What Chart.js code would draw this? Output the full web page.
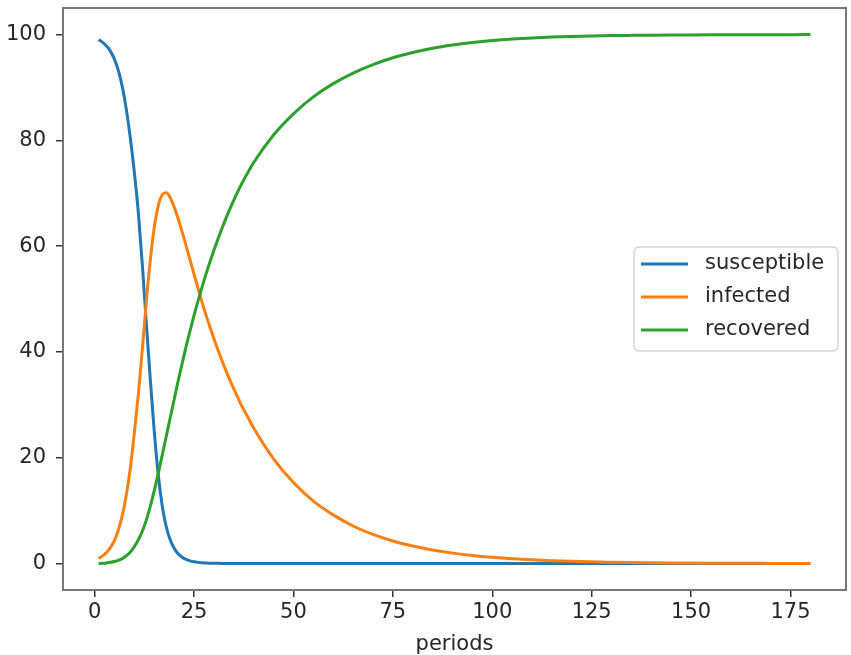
<!DOCTYPE html>
<html lang="en">
<head>
    <meta charset="UTF-8">
    <title>SIR model</title>
    <script src="https://cdn.jsdelivr.net/npm/chart.js"></script>
    <style>
        html, body {
            margin: 0;
            padding: 0;
            background: #fff;
        }
        .chart-box {
            width: 851px;
            height: 655px;
        }
    </style>
</head>
<body>
    <div class="chart-box"><canvas id="sirChart"></canvas></div>

    <script>
        // periods on the x axis: every step up to 40, then every 5
        const periods = [
            1, 2, 3, 4, 5, 6, 7, 8, 9, 10, 11, 12, 13, 14, 15, 16, 17, 18, 19, 20,
            21, 22, 23, 24, 25, 26, 27, 28, 29, 30, 31, 32, 33, 34, 35, 36, 37, 38, 39, 40,
            45, 50, 55, 60, 65, 70, 75, 80, 85, 90, 95, 100, 105, 110, 115, 120, 125, 130,
            135, 140, 145, 150, 155, 160, 165, 170, 175, 180
        ];
        const susceptible = [
            99, 98.5, 97.8, 96.8, 95.3, 93.1, 90.0, 85.7, 80.3, 73.9, 66.3, 56.5, 45.5, 34.8, 25.0, 16.8, 10.9, 7.0, 4.5, 2.9,
            1.85, 1.2, 0.78, 0.5, 0.33, 0.22, 0.15, 0.1, 0.07, 0.05, 0.04, 0.032, 0.026, 0.022, 0.019, 0.017, 0.015, 0.014, 0.013, 0.012,
            0.01, 0.008, 0.007, 0.006, 0.006, 0.005, 0.005, 0.005, 0.004, 0.004, 0.004, 0.004, 0.004, 0.003, 0.003, 0.003, 0.003, 0.003,
            0.003, 0.003, 0.003, 0.003, 0.003, 0.003, 0.003, 0.003, 0.003, 0.003
        ];
        const infected = [
            1.0, 1.45, 2.1, 3.05, 4.4, 6.4, 9.2, 13.1, 18.1, 24.8, 32.0, 40.5, 49.5, 57.3, 63.5, 67.6, 69.7, 70.1, 69.2, 67.4,
            65.2, 62.7, 60.1, 57.4, 54.7, 52.0, 49.4, 47.0, 44.7, 42.5, 40.4, 38.4, 36.5, 34.7, 33.0, 31.4, 29.8, 28.4, 27.0, 25.6,
            19.8, 15.3, 11.8, 9.2, 7.1, 5.5, 4.25, 3.3, 2.55, 1.97, 1.52, 1.17, 0.9, 0.7, 0.54, 0.42, 0.32, 0.25,
            0.19, 0.15, 0.115, 0.09, 0.07, 0.054, 0.042, 0.032, 0.025, 0.02
        ];
        const recovered = [
            0, 0.05, 0.12, 0.23, 0.38, 0.6, 0.95, 1.5, 2.2, 3.2, 4.5, 6.1, 8.2, 10.8, 13.8, 17.0, 20.5, 24.0, 27.5, 31.0,
            34.5, 37.8, 41.0, 44.0, 46.9, 49.6, 52.2, 54.7, 57.0, 59.2, 61.3, 63.3, 65.2, 67.0, 68.7, 70.3, 71.8, 73.2, 74.5, 75.8,
            81.0, 85.0, 88.2, 90.7, 92.7, 94.3, 95.6, 96.6, 97.4, 98.0, 98.47, 98.84, 99.12, 99.34, 99.5, 99.62, 99.71, 99.78,
            99.83, 99.87, 99.9, 99.92, 99.935, 99.945, 99.955, 99.96, 99.965, 99.97
        ];

        const xTicks = [0, 25, 50, 75, 100, 125, 150, 175];
        const yTicks = [0, 20, 40, 60, 80, 100];
        const xLabel = 'periods';

        const FONT = '"DejaVu Sans", sans-serif';
        const TEXT = '#262626';

        const toPoints = (ys) => periods.map((p, i) => ({ x: p, y: ys[i] }));

        // matplotlib-like frame and legend box inside the axes
        const axesDecor = {
            id: 'axesDecor',
            afterDatasetsDraw(chart) {
                const { ctx, chartArea } = chart;
                ctx.save();
                ctx.strokeStyle = '#777';
                ctx.lineWidth = 2;
                ctx.strokeRect(chartArea.left, chartArea.top,
                    chartArea.right - chartArea.left, chartArea.bottom - chartArea.top);

                const boxW = 204, boxH = 104;
                const x0 = chartArea.right - 8 - boxW;
                const y0 = (chartArea.top + chartArea.bottom) / 2 - boxH / 2;
                ctx.beginPath();
                ctx.roundRect(x0, y0, boxW, boxH, 5);
                ctx.fillStyle = 'rgba(255,255,255,0.85)';
                ctx.fill();
                ctx.strokeStyle = '#d3d3d3';
                ctx.lineWidth = 1.5;
                ctx.stroke();

                ctx.font = '21px ' + FONT;
                ctx.textBaseline = 'middle';
                ctx.textAlign = 'left';
                chart.data.datasets.forEach((ds, i) => {
                    const y = y0 + 17 + i * 33;
                    ctx.strokeStyle = ds.borderColor;
                    ctx.lineWidth = 3;
                    ctx.beginPath();
                    ctx.moveTo(x0 + 7, y);
                    ctx.lineTo(x0 + 54, y);
                    ctx.stroke();
                    ctx.fillStyle = TEXT;
                    ctx.fillText(ds.label, x0 + 71, y);
                });
                ctx.restore();
            }
        };

        const ctx = document.getElementById('sirChart').getContext('2d');
        new Chart(ctx, {
            type: 'line',
            data: {
                datasets: [
                    { label: 'susceptible', data: toPoints(susceptible), borderColor: '#1f77b4', order: 2 },
                    { label: 'infected', data: toPoints(infected), borderColor: '#ff7f0e', order: 1 },
                    { label: 'recovered', data: toPoints(recovered), borderColor: '#2ca02c', order: 0 }
                ]
            },
            options: {
                responsive: true,
                maintainAspectRatio: false,
                animation: false,
                layout: { padding: { top: 8, right: 5, left: 0, bottom: 0 } },
                elements: {
                    line: { borderWidth: 3, fill: false, cubicInterpolationMode: 'monotone' },
                    point: { radius: 0, hoverRadius: 0 }
                },
                plugins: {
                    legend: { display: false },
                    tooltip: { enabled: false }
                },
                scales: {
                    x: {
                        type: 'linear',
                        min: -7.95,
                        max: 188.95,
                        afterFit: (scale) => {
                            scale.height = 65;
                            scale.paddingLeft = 0;
                            scale.paddingRight = 0;
                        },
                        afterBuildTicks: (scale) => { scale.ticks = xTicks.map(v => ({ value: v })); },
                        grid: { drawOnChartArea: false, drawTicks: true, tickLength: 7, color: '#333', lineWidth: 1.5 },
                        border: { display: false },
                        ticks: { padding: 3, color: TEXT, font: { family: FONT, size: 21 }, maxRotation: 0 },
                        title: {
                            display: true,
                            text: xLabel,
                            color: TEXT,
                            font: { family: FONT, size: 21, lineHeight: 1 },
                            padding: { top: 0, bottom: 0 }
                        }
                    },
                    y: {
                        min: -5,
                        max: 105,
                        afterFit: (scale) => {
                            scale.width = 63;
                            scale.paddingTop = 0;
                            scale.paddingBottom = 0;
                        },
                        afterBuildTicks: (scale) => { scale.ticks = yTicks.map(v => ({ value: v })); },
                        grid: { drawOnChartArea: false, drawTicks: true, tickLength: 7, color: '#333', lineWidth: 1.5 },
                        border: { display: false },
                        ticks: { padding: 10, color: TEXT, font: { family: FONT, size: 21 } }
                    }
                }
            },
            plugins: [axesDecor]
        });
    </script>
</body>
</html>
